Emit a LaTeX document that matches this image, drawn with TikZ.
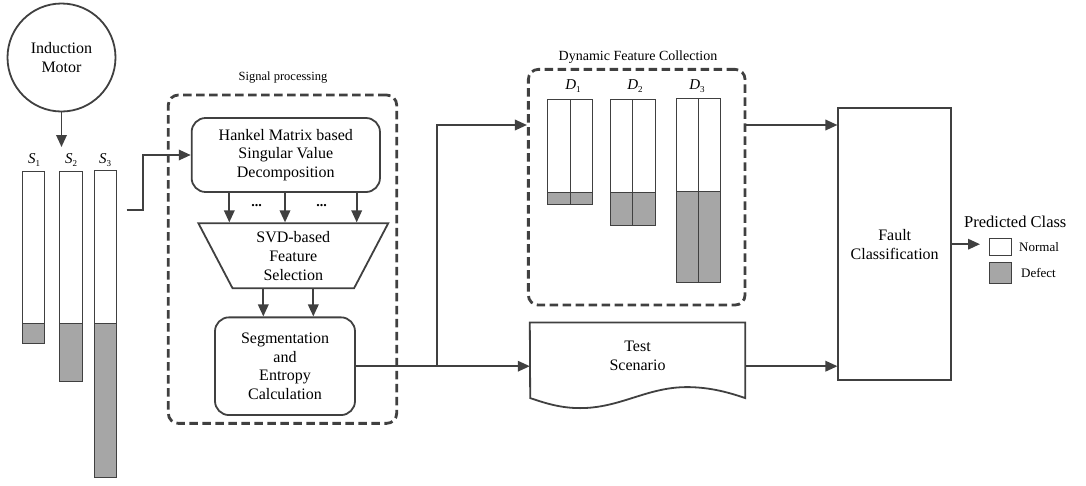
\documentclass[tikz,border=0pt]{standalone}
\usepackage{fontspec}
\setmainfont{Liberation Serif}
\usetikzlibrary{shapes.geometric,arrows.meta}
\definecolor{ink}{HTML}{404040}
\definecolor{shade}{HTML}{A6A6A6}
\newcommand\fsbody{\fontsize{16}{18.8}\selectfont}
\newcommand\fstitle{\fontsize{12.5}{14}\selectfont}
\newcommand\fslegend{\fontsize{13}{14}\selectfont}
\newcommand\fsvar{\fontsize{15}{16}\selectfont}
\newcommand\varlab[2]{\textit{#1}\raisebox{-0.35ex}{\fontsize{9}{9}\selectfont #2}}
\begin{document}
\begin{tikzpicture}[x=1pt,y=-1pt,
  line/.style={draw=ink, line width=1.8pt},
  arrow/.style={line, -{Triangle[length=12pt,width=10.5pt]}},
  box/.style={line, rounded corners=14pt, align=center, font=\fsbody, inner sep=0pt},
  group/.style={draw=ink, line width=2.8pt, dash pattern=on 8.5pt off 4.5pt, rounded corners=10pt, inner sep=0pt},
  title/.style={font=\fstitle, text=black},
  bar/.style={draw=ink, line width=1pt, fill=white},
  defect/.style={bar, fill=shade},
  varl/.style={font=\fsvar, inner sep=0pt},
  dots/.style={font=\bfseries\fontsize{14}{14}\selectfont, inner sep=0pt}
]
\useasboundingbox (0,0) rectangle (1086,485);

% motor and measured signals
\node[circle, line, minimum size=108pt, font=\fsbody, align=center, inner sep=0pt] (motor) at (61.5,57.5) {Induction\\Motor};
\coordinate (sigtop) at (61.5,147);
\draw[arrow] (motor) -- (sigtop);

\draw[bar] (22.3,171) rectangle (44.3,323);
\draw[defect] (22.3,323) rectangle (44.3,343);
\draw[bar] (59.3,171) rectangle (82,323);
\draw[defect] (59.3,323) rectangle (82,381);
\draw[bar] (94,170) rectangle (116.7,323);
\draw[defect] (94,323) rectangle (116.7,477);
\node[varl] (s1) at (34,160) {\varlab{S}{1}};
\node[varl] (s2) at (71,160) {\varlab{S}{2}};
\node[varl] (s3) at (105,160) {\varlab{S}{3}};

% signal processing block
\node[group, minimum width=228.4pt, minimum height=328.3pt] (sp) at (282.5,259.2) {};
\node[title] (sptitle) at (283,78) {Signal processing};

\node[box, minimum width=188.3pt, minimum height=74pt] (hankel) at (285.8,155)
  {Hankel Matrix based\\Singular Value\\Decomposition};
\node[trapezium, trapezium left angle=113, trapezium right angle=113, trapezium stretches=true,
  line, minimum width=190pt, minimum height=65pt, align=center, font=\fsbody, inner sep=0pt]
  (svd) at (293.3,255.8) {SVD-based\\Feature\\Selection};
\node[box, minimum width=140pt, minimum height=97.7pt] (seg) at (285,366.2)
  {Segmentation\\and\\Entropy\\Calculation};

\coordinate (sout) at (126.7,210);
\draw[arrow] (sout) -- (143.3,210) |- (hankel.west);

\coordinate (ca) at (229.3,0);
\coordinate (cb) at (285,0);
\coordinate (cc) at (356.7,0);
\coordinate (cd) at (263.3,0);
\coordinate (ce) at (313.3,0);
\foreach \c in {ca,cb,cc}
  \draw[arrow] (hankel.south -| \c) -- (svd.north -| \c);
\foreach \c in {cd,ce}
  \draw[arrow] (svd.south -| \c) -- (seg.north -| \c);
\node[dots] (dots1) at (256.7,206) {...};
\node[dots] (dots2) at (321.7,206) {...};

% branching to collection and test scenario
\coordinate (split) at (437.3,366.2);
\coordinate (hi) at (437.3,125);
\draw[line] (seg.east) -- (split);

\node[group, minimum width=216.7pt, minimum height=235.7pt] (dfc) at (636.7,187.2) {};
\node[title, font=\fontsize{14}{15}\selectfont] (dfctitle) at (638,57) {Dynamic Feature Collection};
\draw[arrow] (split) -- (hi) -- (hi -| dfc.west);

\draw[bar] (547.7,99.3) rectangle (592.7,192.3);
\draw[defect] (547.7,192.3) rectangle (592.7,204);
\draw[ink, line width=1pt] (570,99.3) -- (570,204);
\draw[bar] (610,99.3) rectangle (655,192.3);
\draw[defect] (610,192.3) rectangle (655,225.3);
\draw[ink, line width=1pt] (632.5,99.3) -- (632.5,225.3);
\draw[bar] (676,98.3) rectangle (720.7,191);
\draw[defect] (676,191) rectangle (720.7,282.7);
\draw[ink, line width=1pt] (698.3,98.3) -- (698.3,282.7);
\node[varl] (d1) at (573,86) {\varlab{D}{1}};
\node[varl] (d2) at (635,86) {\varlab{D}{2}};
\node[varl] (d3) at (697,86) {\varlab{D}{3}};

% test scenario document shape
\node[minimum width=215pt, minimum height=66.6pt, align=center, font=\fsbody, inner sep=0pt]
  (test) at (637.5,356) {Test\\Scenario};
\draw[line] (test.north west) -- (test.north east) -- ++(0,75.6)
  .. controls +(-20,-7) and +(20,0) .. ++(-58.3,-11)
  .. controls +(-40,0) and +(40,0) .. ++(-106.7,21)
  .. controls +(-20,0) and +(15,5) .. ++(-50,-10) -- cycle;
\draw[arrow] (split) -- (split -| test.west);

% classifier and output
\node[line, minimum width=112.7pt, minimum height=271.7pt, align=center, font=\fsbody, inner sep=0pt]
  (fault) at (894.7,244.2) {Fault\\Classification};
\draw[arrow] (hi -| dfc.east) -- (hi -| fault.west);
\draw[arrow] (split -| test.east) -- (split -| fault.west);

\coordinate (pc) at (980,244.2);
\draw[arrow] (fault.east) -- (pc);
\node[anchor=west, font=\fontsize{16.5}{18}\selectfont, inner sep=0pt] (pclass) at (964,221.7) {Predicted Class};
\node[bar, minimum width=22.4pt, minimum height=17.4pt, inner sep=0pt] (knormal) at (1000.5,247) {};
\node[anchor=west, font=\fslegend, inner sep=0pt] (lnormal) at (1019,247) {Normal};
\node[defect, minimum width=22.4pt, minimum height=21pt, inner sep=0pt] (kdefect) at (1000.5,272.8) {};
\node[anchor=west, font=\fslegend, inner sep=0pt] (ldefect) at (1021,273.3) {Defect};
\end{tikzpicture}
\end{document}
